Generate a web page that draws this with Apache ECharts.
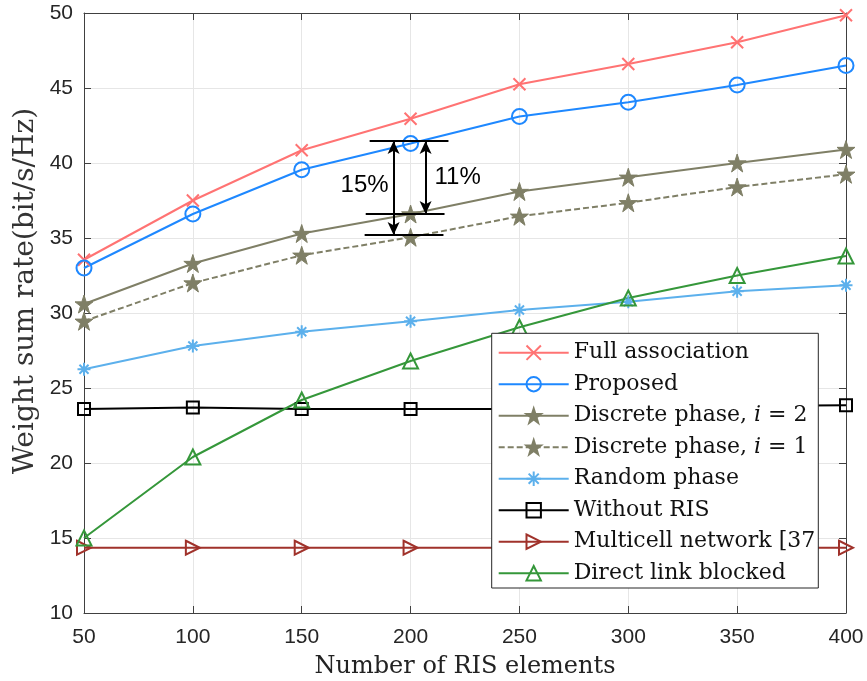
<!DOCTYPE html>
<html>
<head>
<meta charset="utf-8">
<script src="https://cdn.jsdelivr.net/npm/echarts@6/dist/echarts.min.js"></script>
<style>
  html, body { margin: 0; padding: 0; background: #fff; }
  #chart { width: 867px; height: 681px; }
</style>
</head>
<body>
<div id="chart"></div>
<script>
// RIS elements on the x axis
const risElements = [50, 100, 150, 200, 250, 300, 350, 400];

const fullAssoc = [33.55, 37.5, 40.85, 42.95, 45.25, 46.6, 48.05, 49.85];
const proposed = [33.0, 36.6, 39.55, 41.3, 43.1, 44.05, 45.2, 46.5];
const discrete2 = [30.6, 33.3, 35.3, 36.6, 38.1, 39.05, 40.0, 40.9];
const discrete1 = [29.45, 32.0, 33.85, 35.05, 36.45, 37.35, 38.4, 39.25];
const randomPhase = [26.25, 27.8, 28.75, 29.45, 30.2, 30.75, 31.45, 31.85];
const withoutRIS = [23.6, 23.7, 23.6, 23.6, 23.6, 23.7, 23.8, 23.85];
const multicell = [14.35, 14.35, 14.35, 14.35, 14.35, 14.35, 14.35, 14.35];
const directBlocked = [15.0, 20.4, 24.2, 26.8, 29.05, 31.0, 32.5, 33.8];

const legendNames = ['Full association', 'Proposed', 'Discrete phase, i = 2',
    'Discrete phase, i = 1', 'Random phase', 'Without RIS',
    'Multicell network [37', 'Direct link blocked'];

// gap annotation (data coords)
const gapLines = [[181.2, 217.4, 41.47], [179.4, 215.6, 36.6], [178.9, 215.1, 35.2]];
const gapArrows = [[192.2, 41.47, 35.2], [206.9, 41.47, 36.6]];
const gapLabels = [['15%', 178.9, 38.5], ['11%', 221.6, 39.05]];

const SERIF = 'DejaVu Serif';
const SANS = 'Liberation Sans';

const crossPath = 'path://M0,0L10,10M10,0L0,10';
const starPath = 'path://M50,0L61.8,35.3L99,35.3L69,57.3L80.3,92.7L50,70.8L19.7,92.7L31,57.3L1,35.3L38.2,35.3Z';
const asteriskPath = 'path://M5,0L5,10M0,5L10,5M1.5,1.5L8.5,8.5M8.5,1.5L1.5,8.5';
const rightTriPath = 'path://M0,0L10,5L0,10Z';

function pairs(vals) {
    return risElements.map((x, i) => [x, vals[i]]);
}

function lineSeries(name, vals, color, symbol, size, filled, dashed) {
    return {
        name: name,
        type: 'line',
        data: pairs(vals),
        symbol: symbol,
        symbolSize: size,
        showAllSymbol: true,
        clip: false,
        z: 3,
        lineStyle: { color: color, width: 2, type: dashed ? [6, 3] : 'solid' },
        itemStyle: filled
            ? { color: color, borderColor: color, borderWidth: 1 }
            : { color: 'none', borderColor: color, borderWidth: 2 },
        emphasis: { disabled: true }
    };
}

const chart = echarts.init(document.getElementById('chart'));

const axisColor = '#404040';
const gridColor = '#e6e6e6';

const option = {
    animation: false,
    grid: { left: 84, right: 21, top: 13, bottom: 68 },
    xAxis: [{
        type: 'value', min: 50, max: 400, interval: 50,
        axisLine: { lineStyle: { color: axisColor, width: 1 } },
        axisTick: { inside: true, length: 7, lineStyle: { color: axisColor } },
        axisLabel: { color: '#262626', fontFamily: SANS, fontSize: 21, margin: 14 },
        splitLine: { show: true, lineStyle: { color: gridColor, width: 1 } }
    }, {
        type: 'value', min: 50, max: 400, interval: 50, position: 'top',
        axisLine: { show: true, lineStyle: { color: axisColor, width: 1 } },
        axisTick: { show: true, inside: true, length: 7, lineStyle: { color: axisColor } },
        axisLabel: { show: false },
        splitLine: { show: false }
    }],
    yAxis: [{
        type: 'value', min: 10, max: 50, interval: 5,
        axisLine: { show: true, lineStyle: { color: axisColor, width: 1 } },
        axisTick: { show: true, inside: true, length: 7, lineStyle: { color: axisColor } },
        axisLabel: { color: '#262626', fontFamily: SANS, fontSize: 21, margin: 11 },
        splitLine: { show: true, lineStyle: { color: gridColor, width: 1 } }
    }, {
        type: 'value', min: 10, max: 50, interval: 5, position: 'right',
        axisLine: { show: true, lineStyle: { color: axisColor, width: 1 } },
        axisTick: { show: true, inside: true, length: 7, lineStyle: { color: axisColor } },
        axisLabel: { show: false },
        splitLine: { show: false }
    }],
    legend: {
        data: legendNames,
        orient: 'vertical',
        left: 497.7,
        top: 341.7,
        padding: 0,
        itemWidth: 70,
        itemHeight: 18,
        itemGap: 9.5,
        z: 20,
        selectedMode: false,
        textStyle: {
            fontFamily: SERIF, fontSize: 22, color: '#111', lineHeight: 22,
            rich: {
                it: { fontFamily: SERIF, fontSize: 22, fontStyle: 'italic', color: '#111' }
            }
        },
        formatter: function (name) {
            return name.replace(' i =', ' {it|i} =');
        }
    },
    graphic: [{
        type: 'rect', z: 10,
        shape: { x: 491.7, y: 333.3, width: 326.6, height: 254.7 },
        style: { fill: '#fff', stroke: '#262626', lineWidth: 1 }
    }, {
        type: 'text', z: 10,
        x: 465, y: 667,
        style: {
            text: 'Number of RIS elements', fill: '#222',
            font: '24px "' + SERIF + '"', align: 'center', verticalAlign: 'middle'
        }
    }, {
        type: 'text', z: 10,
        x: 26, y: 291, rotation: Math.PI / 2,
        style: {
            text: 'Weight sum rate(bit/s/Hz)', fill: '#333',
            font: '28px "' + SERIF + '"', align: 'center', verticalAlign: 'middle'
        }
    }],
    series: [
        lineSeries(legendNames[0], fullAssoc, '#ff7373', crossPath, 12, false),
        lineSeries(legendNames[1], proposed, '#1e88ff', 'circle', 15, false),
        lineSeries(legendNames[2], discrete2, '#7f7f66', starPath, 18, true),
        lineSeries(legendNames[3], discrete1, '#7f7f66', starPath, 18, true, true),
        lineSeries(legendNames[4], randomPhase, '#5cb0ec', asteriskPath, 13, false),
        lineSeries(legendNames[5], withoutRIS, '#000000', 'rect', 12, false),
        lineSeries(legendNames[6], multicell, '#a0322b', rightTriPath, 14, false),
        lineSeries(legendNames[7], directBlocked, '#35973a', 'triangle', 15, false),
        {
            name: 'gap', type: 'line', data: [], symbol: 'none', z: 5,
            markLine: {
                silent: true, animation: false,
                symbol: ['none', 'none'],
                label: { show: false },
                lineStyle: { color: '#000', width: 2, type: 'solid' },
                emphasis: { disabled: true },
                data: gapLines.map(l => [{ coord: [l[0], l[2]] }, { coord: [l[1], l[2]] }])
                    .concat(gapArrows.map(a => [
                        { coord: [a[0], a[1]], symbol: 'arrow', symbolSize: [9, 13] },
                        { coord: [a[0], a[2]], symbol: 'arrow', symbolSize: [9, 13] }
                    ]))
            },
            markPoint: {
                silent: true, animation: false,
                symbol: 'circle', symbolSize: 0,
                label: {
                    show: true, position: 'inside', color: '#000',
                    fontFamily: SANS, fontSize: 24
                },
                data: gapLabels.map(t => ({
                    coord: [t[1], t[2]], value: t[0],
                    label: { formatter: t[0] }
                }))
            }
        }
    ]
};

chart.setOption(option);
</script>
</body>
</html>
